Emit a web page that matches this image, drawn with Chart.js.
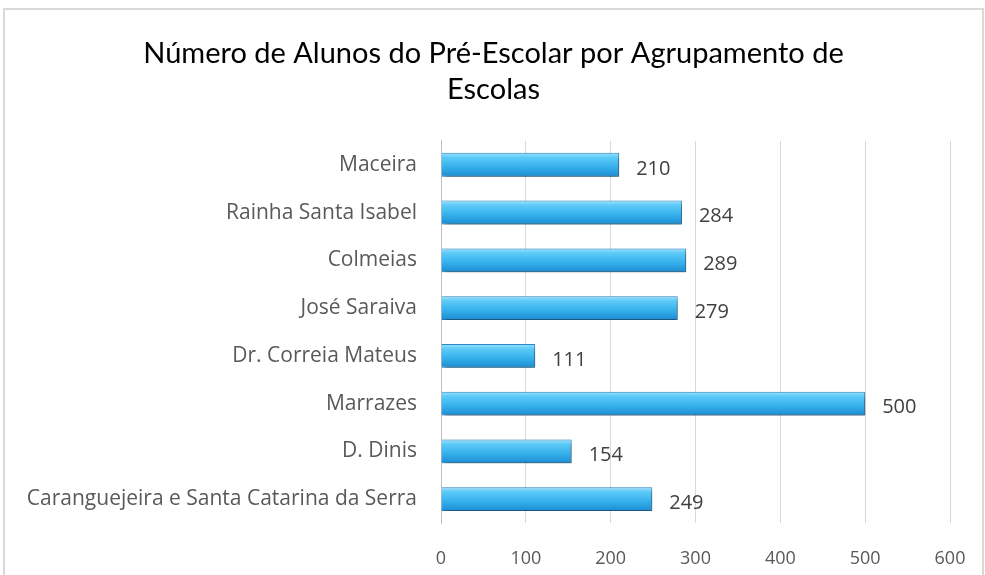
<!DOCTYPE html>
<html>
<head>
<meta charset="utf-8">
<script src="https://cdn.jsdelivr.net/npm/chart.js@4.4.0/dist/chart.umd.min.js"></script>
<style>
  html, body { margin: 0; background: #fff; overflow: hidden; }
  #caixa {
    position: absolute; left: 3px; top: 8px;
    width: 977px; height: 575px;
    border: 2px solid #d9d9d9; background: #fff;
  }
</style>
</head>
<body>
<div id="caixa"><canvas id="alunos"></canvas></div>
<script>
const agrupamentos = ['Maceira', 'Rainha Santa Isabel', 'Colmeias', 'José Saraiva', 'Dr. Correia Mateus', 'Marrazes', 'D. Dinis', 'Caranguejeira e Santa Catarina da Serra'];
const alunos = [210, 284, 289, 279, 111, 500, 154, 249];
const tituloLinhas = ['Número de Alunos do Pré-Escolar por Agrupamento de', 'Escolas'];

const fonteTitulo = 'Lato, "Open Sans", sans-serif';
const fonte = '"Open Sans", Lato, sans-serif';

// gradiente vertical em cada barra
function corBarra(c) {
  const chart = c.chart;
  const y = chart.scales.y;
  if (!y || c.dataIndex === undefined || !chart.chartArea) return '#3cb4ee';
  const meio = y.getPixelForValue(c.dataIndex);
  const g = chart.ctx.createLinearGradient(0, meio - 12, 0, meio + 12);
  g.addColorStop(0, '#9ee2fc');
  g.addColorStop(0.2, '#5ccaf7');
  g.addColorStop(0.6, '#35b0ec');
  g.addColorStop(1, '#1b8bd2');
  return g;
}

const sombraEtiquetas = {
  id: 'sombraEtiquetas',
  beforeDatasetsDraw(chart) {
    const ctx = chart.ctx;
    ctx.save();
    ctx.shadowColor = 'rgba(0,0,0,0.5)';
    ctx.shadowBlur = 5;
    ctx.shadowOffsetX = 2;
    ctx.shadowOffsetY = 3;
  },
  afterDatasetsDraw(chart) {
    const ctx = chart.ctx;
    ctx.restore();
    ctx.save();
    ctx.font = '20px ' + fonte;
    ctx.fillStyle = '#404040';
    ctx.textBaseline = 'middle';
    chart.getDatasetMeta(0).data.forEach((barra, i) => {
      ctx.fillText(String(alunos[i]), barra.x + 17, barra.y + 4);
    });
    ctx.restore();
  }
};

const ctxAlunos = document.getElementById('alunos').getContext('2d');

new Chart(ctxAlunos, {
  type: 'bar',
  data: {
    labels: agrupamentos,
    datasets: [{
      data: alunos,
      backgroundColor: corBarra,
      borderColor: '#2a8ccb',
      borderWidth: 1,
      borderSkipped: 'left',
      categoryPercentage: 1,
      barPercentage: 0.5
    }]
  },
  options: {
    indexAxis: 'y',
    responsive: true,
    maintainAspectRatio: false,
    animation: false,
    layout: { padding: { left: 4, right: 4, top: 0, bottom: 0 } },
    plugins: {
      legend: { display: false },
      tooltip: { enabled: false },
      title: {
        display: true,
        text: tituloLinhas,
        color: '#000',
        font: { family: fonteTitulo, size: 29, weight: 'normal', lineHeight: 1.24 },
        padding: { top: 26, bottom: 33 }
      }
    },
    scales: {
      x: {
        min: 0,
        max: 600,
        afterFit(escala) {
          escala.height = 62;
          escala.paddingLeft = 0;
          escala.paddingRight = 32;
        },
        ticks: { stepSize: 100, color: '#595959', font: { family: fonte, size: 18 }, padding: 25 },
        grid: { color: '#d9d9d9', drawTicks: false },
        border: { display: false }
      },
      y: {
        afterFit(escala) { escala.width = 432; },
        ticks: { color: '#595959', font: { family: fonte, size: 21 }, padding: 24 },
        grid: { display: false, drawTicks: false },
        border: { display: true, color: '#bfbfbf' }
      }
    }
  },
  plugins: [sombraEtiquetas]
});
</script>
</body>
</html>
